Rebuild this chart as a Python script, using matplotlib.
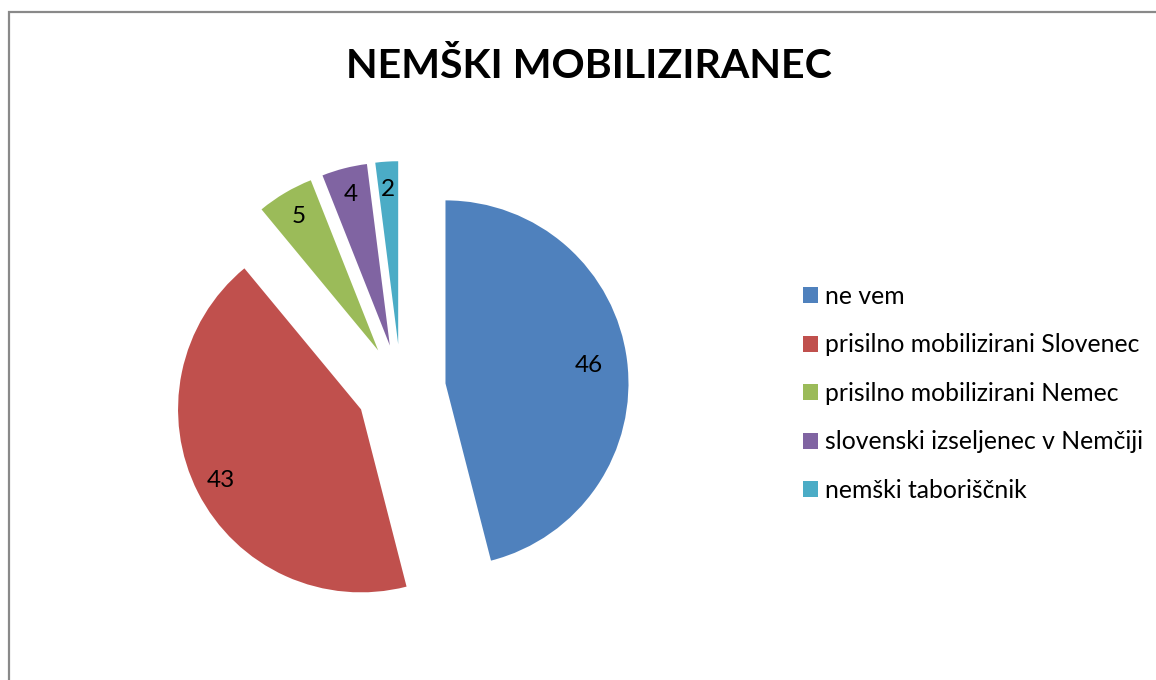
import numpy as np
import matplotlib.pyplot as plt
from matplotlib.patches import Rectangle

categories = ['ne vem', 'prisilno mobilizirani Slovenec', 'prisilno mobilizirani Nemec',
              'slovenski izseljenec v Nemčiji', 'nemški taboriščnik']
values = [46, 43, 5, 4, 2]
colors = ['#4F81BD', '#C0504D', '#9BBB59', '#8064A2', '#4BACC6']
label_dist = [0.79, 0.86, 0.85, 0.85, 0.85]

W, H = 1156, 680
R = 183
fig = plt.figure(figsize=(W / 100, H / 100), dpi=100)
ax = fig.add_axes([0, 0, 1, 1])

# chart area border (only left and top show in the picture)
ax.add_patch(Rectangle((9, -10), W + 20, H - 12 + 10, fill=False,
                       edgecolor='#898989', linewidth=1.6))

# explode is in data units, so scale it by the radius
wedges, texts, autotexts = ax.pie(
    values, colors=colors, startangle=90, counterclock=False,
    center=(401, H - 389), radius=R, explode=[0.245 * R] * len(values),
    autopct=lambda p: f'{p:.0f}', pctdistance=0.84,
    textprops=dict(fontsize=17.5, family='Lato', color='black'),
    wedgeprops=dict(linewidth=0), frame=True)

# move value labels along each slice bisector, Excel puts them a bit differently
for w, t, d in zip(wedges, autotexts, label_dist):
    ang = np.deg2rad((w.theta1 + w.theta2) / 2)
    cx, cy = w.center
    t.set_position((cx + d * R * np.cos(ang), cy + d * R * np.sin(ang)))

ax.set_xlim(0, W)
ax.set_ylim(0, H)
ax.set_aspect('auto')
ax.axis('off')

fig.text(589 / W, 1 - 66 / H, 'NEMŠKI MOBILIZIRANEC', ha='center', va='center',
         fontsize=29.6, fontweight='bold', family='Lato')

leg = ax.legend(wedges, categories, loc='upper left',
                bbox_to_anchor=(803 / W, 1 - 285 / H), bbox_transform=fig.transFigure,
                frameon=False, prop=dict(family='Lato', size=17.8),
                handlelength=0.6, handleheight=0.6, handletextpad=0.3,
                labelspacing=1.03, borderpad=0, borderaxespad=0)

fig.savefig('out.png', dpi=100)
